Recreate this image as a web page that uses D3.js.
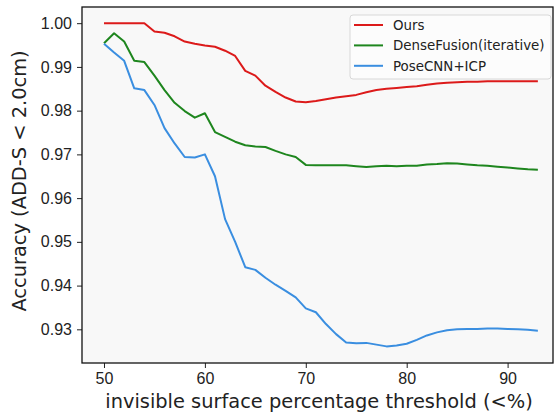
<!DOCTYPE html>
<html>
<head>
<meta charset="utf-8">
<script src="https://cdn.jsdelivr.net/npm/d3@7"></script>
<style>
  body { margin: 0; background: #fff; }
  svg { display: block; font-family: "DejaVu Sans", sans-serif; }
</style>
</head>
<body>
<svg id="chart" width="556" height="413"></svg>
<script>
// threshold values (x axis)
const thresholds = d3.range(50, 94);

const ours = [
  1.0000, 1.0000, 1.0000, 1.0000, 1.0000, 0.9981, 0.9978, 0.9970, 0.9958, 0.9953,
  0.9949, 0.9946, 0.9937, 0.9925, 0.9891, 0.9880, 0.9857, 0.9843, 0.9830, 0.9821,
  0.9819, 0.9822, 0.9826, 0.9830, 0.9833, 0.9836, 0.9842, 0.9847, 0.9850, 0.9852,
  0.9854, 0.9856, 0.9859, 0.9862, 0.9864, 0.9865, 0.9866, 0.9866, 0.9867, 0.9867,
  0.9867, 0.9867, 0.9867, 0.9867
];

const denseFusion = [
  0.9954, 0.9977, 0.9958, 0.9914, 0.9911, 0.9880, 0.9847, 0.9818, 0.9799, 0.9784,
  0.9794, 0.9751, 0.9740, 0.9729, 0.9721, 0.9718, 0.9717, 0.9708, 0.9700, 0.9694,
  0.9676, 0.9675, 0.9675, 0.9675, 0.9675, 0.9673, 0.9671, 0.9673, 0.9674, 0.9673,
  0.9674, 0.9674, 0.9677, 0.9678, 0.9680, 0.9679, 0.9677, 0.9675, 0.9674, 0.9672,
  0.9670, 0.9668, 0.9666, 0.9665
];

const poseCNN = [
  0.9953, 0.9933, 0.9914, 0.9851, 0.9847, 0.9813, 0.9760, 0.9725, 0.9694, 0.9693,
  0.9700, 0.9650, 0.9552, 0.9500, 0.9442, 0.9436, 0.9418, 0.9402, 0.9388, 0.9373,
  0.9348, 0.9339, 0.9312, 0.9289, 0.9270, 0.9268, 0.9269, 0.9265, 0.9261, 0.9263,
  0.9267, 0.9276, 0.9286, 0.9293, 0.9298, 0.9300, 0.9301, 0.9301, 0.9302, 0.9302,
  0.9301, 0.9300, 0.9299, 0.9297
];

const seriesNames = ["Ours", "DenseFusion(iterative)", "PoseCNN+ICP"];
const seriesColors = ["#dc1a1a", "#1e861e", "#3a8ee0"];
const xTicks = [50, 60, 70, 80, 90];
const yTicks = [0.93, 0.94, 0.95, 0.96, 0.97, 0.98, 0.99, 1.00];

const series = [ours, denseFusion, poseCNN];

const margin = {left: 82, top: 7, right: 3, bottom: 50};
const width = 556, height = 413;

const svg = d3.select("#chart");

const x = d3.scaleLinear()
    .domain([47.82, 94.5])
    .range([margin.left, width - margin.right]);

const y = d3.scaleLinear()
    .domain([0.9223, 1.0037])
    .range([height - margin.bottom, margin.top]);

// plot background
svg.append("rect")
    .attr("x", margin.left)
    .attr("y", margin.top)
    .attr("width", width - margin.right - margin.left)
    .attr("height", height - margin.bottom - margin.top)
    .attr("fill", "#f8f8f8");

const line = d3.line()
    .x((d, i) => x(thresholds[i]))
    .y(d => y(d));

svg.append("g")
  .selectAll("path")
  .data(series)
  .join("path")
    .attr("fill", "none")
    .attr("stroke", (d, i) => seriesColors[i])
    .attr("stroke-width", 2)
    .attr("stroke-linejoin", "round")
    .attr("d", line);

// axes
const xAxis = svg.append("g")
    .attr("transform", `translate(0,${height - margin.bottom})`)
    .call(d3.axisBottom(x).tickValues(xTicks).tickSize(5).tickPadding(5).tickSizeOuter(0));

const yAxis = svg.append("g")
    .attr("transform", `translate(${margin.left},0)`)
    .call(d3.axisLeft(y).tickValues(yTicks).tickFormat(d3.format(".2f")).tickSize(5).tickPadding(5).tickSizeOuter(0));

for (const ax of [xAxis, yAxis]) {
  ax.select(".domain").remove();
  ax.selectAll("line").attr("stroke", "#222").attr("stroke-width", 1);
  ax.selectAll("text").attr("fill", "#222").attr("font-size", 16);
}

// frame (spines)
svg.append("rect")
    .attr("x", margin.left)
    .attr("y", margin.top)
    .attr("width", width - margin.right - margin.left)
    .attr("height", height - margin.bottom - margin.top)
    .attr("fill", "none")
    .attr("stroke", "#111")
    .attr("stroke-width", 1.3);

// axis labels
svg.append("text")
    .attr("x", 319)
    .attr("y", 407.5)
    .attr("text-anchor", "middle")
    .attr("font-size", 19.4)
    .attr("fill", "#222")
    .text("invisible surface percentage threshold (<%)");

svg.append("text")
    .attr("transform", `translate(26,181) rotate(-90)`)
    .attr("text-anchor", "middle")
    .attr("font-size", 19.4)
    .attr("fill", "#222")
    .text("Accuracy (ADD-S < 2.0cm)");

// legend
const legend = svg.append("g").attr("transform", "translate(350,15)");

legend.append("rect")
    .attr("width", 201)
    .attr("height", 64)
    .attr("rx", 3)
    .attr("fill", "#fcfcfc")
    .attr("stroke", "#d8d8d8");

const item = legend.selectAll("g.item")
  .data(seriesNames)
  .join("g")
    .attr("class", "item")
    .attr("transform", (d, i) => `translate(0,${10 + i * 20.4})`);

item.append("line")
    .attr("x1", 4).attr("x2", 33)
    .attr("stroke", (d, i) => seriesColors[i])
    .attr("stroke-width", 2);

item.append("text")
    .attr("x", 43)
    .attr("dy", "0.35em")
    .attr("font-size", 13.4)
    .attr("fill", "#222")
    .text(d => d);
</script>
</body>
</html>
